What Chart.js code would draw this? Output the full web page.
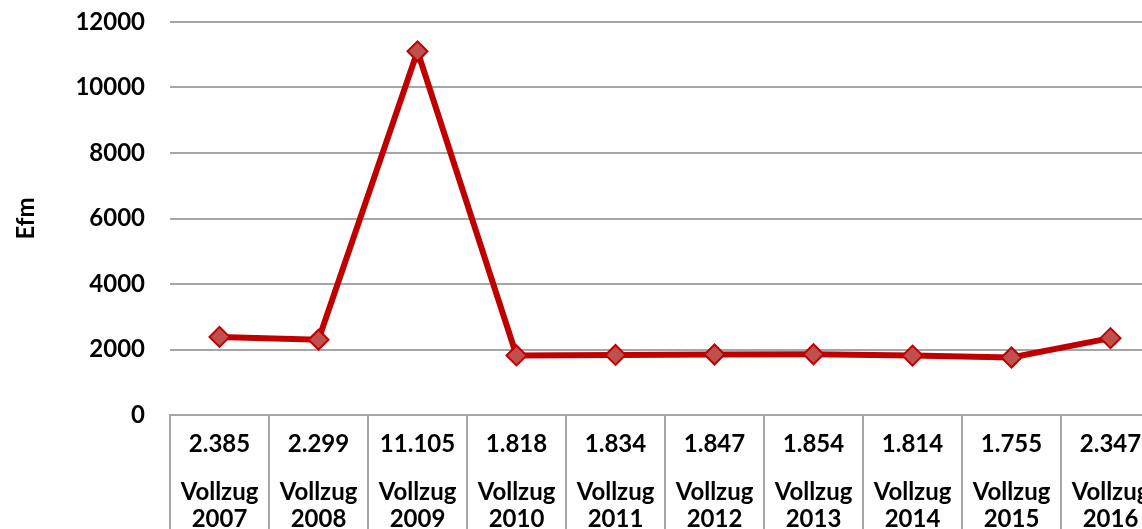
<!DOCTYPE html>
<html>
<head>
<meta charset="utf-8">
<script src="https://cdn.jsdelivr.net/npm/chart.js@4/dist/chart.umd.min.js"></script>
<style>
  html, body { margin: 0; padding: 0; background: #fff; overflow: hidden; }
  #wrap { width: 1180px; height: 529px; }
</style>
</head>
<body>
<div id="wrap"><canvas id="efmChart" width="1180" height="529"></canvas></div>
<script>
// Daten
const years = ['2007', '2008', '2009', '2010', '2011', '2012', '2013', '2014', '2015', '2016'];
const efm = [2385, 2299, 11105, 1818, 1834, 1847, 1854, 1814, 1755, 2347];
const yTicks = [0, 2000, 4000, 6000, 8000, 10000, 12000];

const labels = years.map(y => ['Vollzug', y]);
const fontFam = "Lato, 'Open Sans', sans-serif";

// Zahl im deutschen Format (Tausenderpunkt)
function fmt(v) {
    return String(v).replace(/\B(?=(\d{3})+(?!\d))/g, '.');
}

// Wertezeile der Datentabelle unter der Achse
const valueRow = {
    id: 'valueRow',
    afterDraw(chart) {
        const ctx = chart.ctx;
        const x = chart.scales.x;
        ctx.save();
        ctx.font = 'bold 24px ' + fontFam;
        ctx.fillStyle = '#000';
        ctx.textAlign = 'center';
        ctx.textBaseline = 'middle';
        efm.forEach((v, i) => {
            ctx.fillText(fmt(v), x.getPixelForValue(i), 444);
        });
        ctx.restore();
    }
};

new Chart(document.getElementById('efmChart'), {
    type: 'line',
    data: {
        labels: labels,
        datasets: [{
            data: efm,
            borderColor: '#c00000',
            borderWidth: 6,
            pointStyle: 'rectRot',
            pointRadius: 10,
            pointBackgroundColor: '#c0504d',
            pointBorderColor: '#c00000',
            pointBorderWidth: 2,
            tension: 0
        }]
    },
    options: {
        responsive: false,
        animation: false,
        layout: { padding: { top: 22, right: 20, left: 0, bottom: 0 } },
        plugins: { legend: { display: false }, tooltip: { enabled: false } },
        scales: {
            x: {
                offset: true,
                afterFit(scale) {
                    scale.height = 114;
                    scale.paddingTop = 0;
                    scale.paddingBottom = 0;
                },
                grid: {
                    offset: true,
                    drawOnChartArea: false,
                    drawTicks: true,
                    tickLength: 114,
                    color: '#a6a6a6',
                    lineWidth: 2
                },
                border: { display: true, color: '#a6a6a6', width: 2 },
                ticks: {
                    autoSkip: false,
                    maxRotation: 0,
                    padding: -50,
                    color: '#000',
                    font: { family: fontFam, size: 24, weight: 'bold', lineHeight: 1.13 }
                }
            },
            y: {
                min: 0,
                max: 12000,
                afterFit(scale) {
                    scale.width = 170;
                    scale.paddingTop = 0;
                    scale.paddingBottom = 0;
                },
                afterBuildTicks(scale) { scale.ticks = yTicks.map(v => ({ value: v })); },
                grid: { drawTicks: false, color: '#a6a6a6', lineWidth: 2 },
                border: { display: false },
                ticks: {
                    padding: 25,
                    color: '#000',
                    callback: v => String(v),
                    font: { family: fontFam, size: 24, weight: 'bold' }
                },
                title: {
                    display: true,
                    text: 'Efm',
                    color: '#000',
                    padding: { top: 12, bottom: 0 },
                    font: { family: fontFam, size: 24, weight: 'bold' }
                }
            }
        }
    },
    plugins: [valueRow]
});
</script>
</body>
</html>
